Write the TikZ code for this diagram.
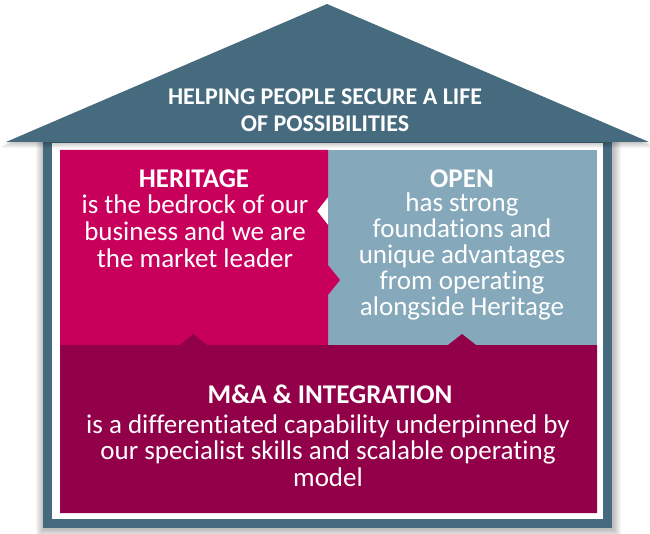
\documentclass[tikz,border=0pt]{standalone}
\usepackage{fontspec}
\setmainfont{Carlito}[Ligatures=NoCommon]
\definecolor{slate}{HTML}{466A7E}
\definecolor{herc}{HTML}{C8005C}
\definecolor{openc}{HTML}{85A9BB}
\definecolor{mac}{HTML}{910048}
\newcommand{\lines}[1]{\begin{tabular}[t]{@{}c@{}}#1\end{tabular}}
\tikzset{
  txt/.style={text=white, inner sep=0pt, anchor=base},
  roofhd/.style={txt, font=\fontsize{24}{28}\selectfont\bfseries},
  boxhd/.style={txt, font=\fontsize{27}{27}\selectfont\bfseries},
  boxbody/.style={txt, font=\fontsize{27}{#1}\selectfont},
}
\begin{document}
\begin{tikzpicture}[x=1pt,y=-1pt]
\useasboundingbox (0,0) rectangle (650,534);
% frame shadow
\foreach \i in {1,...,8} {
  \fill[black, opacity=0.035] (44-\i,143-\i) rectangle (613+\i,529+\i);
}
% frame
\fill[slate] (43,141) rectangle (612,528);
\fill[white] (52,143) rectangle (603,519);
% boxes
\fill[openc] (328,150) rectangle (597,345);
\fill[herc] (60,150) -- (328,150) -- (328,197) -- (317,211) -- (328,225)
  -- (328,265) -- (340,280) -- (328,295) -- (328,345) -- (60,345) -- cycle;
\fill[mac] (60,345) -- (180,345) -- (193,334) -- (207,345) -- (448,345)
  -- (462,334) -- (476,345) -- (597,345) -- (597,513) -- (60,513) -- cycle;
% roof shadow
\foreach \i in {1,...,6} {
  \fill[black, opacity=0.04] (327,4+\i) -- (649+\i,142+\i) -- (6-\i,142+\i) -- cycle;
}
\fill[slate] (327,4) -- (649,142) -- (6,142) -- cycle;
% texts
\node[roofhd] (roof1) at (325,105) {HELPING PEOPLE SECURE A LIFE};
\node[roofhd] (roof2) at (325,132) {OF POSSIBILITIES};
\node[boxhd] (herhd) at (194,188) {HERITAGE};
\node[boxbody=26.2] (herbody) at (195,214) {\lines{is the bedrock of our\\business and we are\\the market leader}};
\node[boxhd] (openhd) at (462,188) {OPEN};
\node[boxbody=23.8] (openbody) at (462,212) {\lines{has strong\\foundations and\\unique advantages\\from operating\\alongside Heritage}};
\node[boxhd] (mahd) at (330,403) {M\&A \& INTEGRATION};
\node[boxbody=26.5] (mabody) at (328,433) {\lines{is a differentiated capability underpinned by\\our specialist skills and scalable operating\\model}};
\end{tikzpicture}
\end{document}
